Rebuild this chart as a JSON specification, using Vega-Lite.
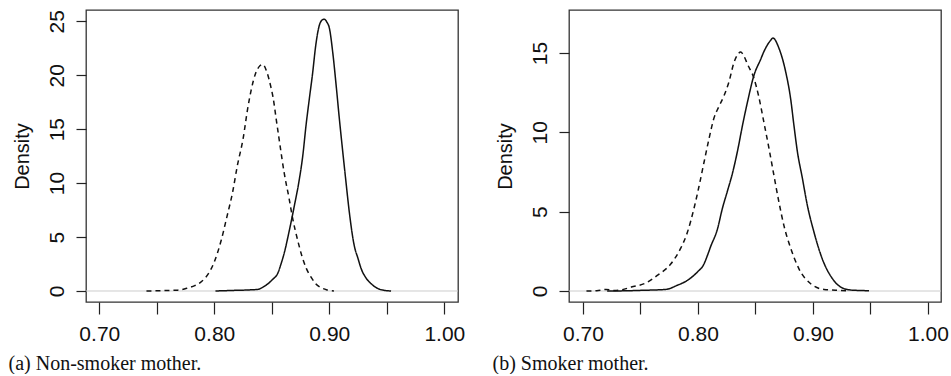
{
  "$schema": "https://vega.github.io/schema/vega-lite/v6.json",
  "background": "white",
  "padding": {"left": 7, "top": 8, "right": 0, "bottom": 0},
  "spacing": 111,
  "bounds": "flush",
  "config": {
    "view": {"stroke": "#333", "strokeWidth": 1.3},
    "axis": {
      "domain": false, "grid": false,
      "tickColor": "#222", "tickWidth": 1.2,
      "labelColor": "#111", "labelFont": "Liberation Sans", "labelFontSize": 21,
      "labelFlush": false, "labelOverlap": false,
      "titleColor": "#111", "titleFontWeight": "normal"
    }
  },
  "datasets": {
    "nonsmoker": [
      {"x": 0.741, "d": 0, "curve": "dashed"},
      {"x": 0.755, "d": 0.03, "curve": "dashed"},
      {"x": 0.768, "d": 0.08, "curve": "dashed"},
      {"x": 0.776, "d": 0.25, "curve": "dashed"},
      {"x": 0.783, "d": 0.5, "curve": "dashed"},
      {"x": 0.788, "d": 0.8, "curve": "dashed"},
      {"x": 0.792, "d": 1.2, "curve": "dashed"},
      {"x": 0.796, "d": 1.8, "curve": "dashed"},
      {"x": 0.800, "d": 2.7, "curve": "dashed"},
      {"x": 0.806, "d": 4.7, "curve": "dashed"},
      {"x": 0.811, "d": 6.9, "curve": "dashed"},
      {"x": 0.816, "d": 9.2, "curve": "dashed"},
      {"x": 0.820, "d": 11.6, "curve": "dashed"},
      {"x": 0.825, "d": 14.1, "curve": "dashed"},
      {"x": 0.829, "d": 16.9, "curve": "dashed"},
      {"x": 0.832, "d": 18.6, "curve": "dashed"},
      {"x": 0.836, "d": 20.2, "curve": "dashed"},
      {"x": 0.839, "d": 20.8, "curve": "dashed"},
      {"x": 0.842, "d": 21.0, "curve": "dashed"},
      {"x": 0.846, "d": 20.2, "curve": "dashed"},
      {"x": 0.849, "d": 19.0, "curve": "dashed"},
      {"x": 0.851, "d": 18.0, "curve": "dashed"},
      {"x": 0.854, "d": 15.8, "curve": "dashed"},
      {"x": 0.857, "d": 13.6, "curve": "dashed"},
      {"x": 0.861, "d": 10.8, "curve": "dashed"},
      {"x": 0.865, "d": 8.6, "curve": "dashed"},
      {"x": 0.868, "d": 6.8, "curve": "dashed"},
      {"x": 0.8725, "d": 4.7, "curve": "dashed"},
      {"x": 0.876, "d": 3.3, "curve": "dashed"},
      {"x": 0.880, "d": 2.1, "curve": "dashed"},
      {"x": 0.884, "d": 1.3, "curve": "dashed"},
      {"x": 0.888, "d": 0.7, "curve": "dashed"},
      {"x": 0.893, "d": 0.3, "curve": "dashed"},
      {"x": 0.898, "d": 0.1, "curve": "dashed"},
      {"x": 0.904, "d": 0, "curve": "dashed"},
      {"x": 0.801, "d": 0, "curve": "solid"},
      {"x": 0.815, "d": 0.05, "curve": "solid"},
      {"x": 0.830, "d": 0.1, "curve": "solid"},
      {"x": 0.838, "d": 0.15, "curve": "solid"},
      {"x": 0.843, "d": 0.4, "curve": "solid"},
      {"x": 0.847, "d": 0.7, "curve": "solid"},
      {"x": 0.851, "d": 1.1, "curve": "solid"},
      {"x": 0.855, "d": 1.6, "curve": "solid"},
      {"x": 0.858, "d": 2.5, "curve": "solid"},
      {"x": 0.861, "d": 3.6, "curve": "solid"},
      {"x": 0.865, "d": 5.5, "curve": "solid"},
      {"x": 0.8696, "d": 7.9, "curve": "solid"},
      {"x": 0.874, "d": 10.4, "curve": "solid"},
      {"x": 0.877, "d": 12.6, "curve": "solid"},
      {"x": 0.8797, "d": 15.3, "curve": "solid"},
      {"x": 0.8826, "d": 17.8, "curve": "solid"},
      {"x": 0.8856, "d": 20.3, "curve": "solid"},
      {"x": 0.888, "d": 22.6, "curve": "solid"},
      {"x": 0.891, "d": 24.5, "curve": "solid"},
      {"x": 0.8935, "d": 25.1, "curve": "solid"},
      {"x": 0.8957, "d": 25.2, "curve": "solid"},
      {"x": 0.898, "d": 24.9, "curve": "solid"},
      {"x": 0.900, "d": 24.4, "curve": "solid"},
      {"x": 0.903, "d": 22.1, "curve": "solid"},
      {"x": 0.906, "d": 19.0, "curve": "solid"},
      {"x": 0.9087, "d": 16.0, "curve": "solid"},
      {"x": 0.9117, "d": 12.9, "curve": "solid"},
      {"x": 0.9145, "d": 10.1, "curve": "solid"},
      {"x": 0.9174, "d": 7.3, "curve": "solid"},
      {"x": 0.9217, "d": 4.2, "curve": "solid"},
      {"x": 0.925, "d": 3.0, "curve": "solid"},
      {"x": 0.9276, "d": 2.1, "curve": "solid"},
      {"x": 0.932, "d": 1.2, "curve": "solid"},
      {"x": 0.9363, "d": 0.68, "curve": "solid"},
      {"x": 0.941, "d": 0.3, "curve": "solid"},
      {"x": 0.945, "d": 0.12, "curve": "solid"},
      {"x": 0.9537, "d": 0, "curve": "solid"}
    ],
    "smoker": [
      {"x": 0.703, "d": 0, "curve": "dashed"},
      {"x": 0.712, "d": 0.02, "curve": "dashed"},
      {"x": 0.720, "d": 0.1, "curve": "dashed"},
      {"x": 0.727, "d": 0.03, "curve": "dashed"},
      {"x": 0.734, "d": 0.08, "curve": "dashed"},
      {"x": 0.742, "d": 0.25, "curve": "dashed"},
      {"x": 0.7545, "d": 0.5, "curve": "dashed"},
      {"x": 0.7647, "d": 0.99, "curve": "dashed"},
      {"x": 0.7763, "d": 1.7, "curve": "dashed"},
      {"x": 0.785, "d": 2.7, "curve": "dashed"},
      {"x": 0.7908, "d": 3.7, "curve": "dashed"},
      {"x": 0.7965, "d": 5.2, "curve": "dashed"},
      {"x": 0.8009, "d": 6.6, "curve": "dashed"},
      {"x": 0.8052, "d": 8.1, "curve": "dashed"},
      {"x": 0.8096, "d": 9.6, "curve": "dashed"},
      {"x": 0.8139, "d": 10.9, "curve": "dashed"},
      {"x": 0.818, "d": 11.6, "curve": "dashed"},
      {"x": 0.8226, "d": 12.3, "curve": "dashed"},
      {"x": 0.827, "d": 13.2, "curve": "dashed"},
      {"x": 0.8313, "d": 14.4, "curve": "dashed"},
      {"x": 0.8345, "d": 14.9, "curve": "dashed"},
      {"x": 0.8371, "d": 15.06, "curve": "dashed"},
      {"x": 0.840, "d": 14.8, "curve": "dashed"},
      {"x": 0.843, "d": 14.3, "curve": "dashed"},
      {"x": 0.8487, "d": 13.4, "curve": "dashed"},
      {"x": 0.853, "d": 12.2, "curve": "dashed"},
      {"x": 0.8574, "d": 10.6, "curve": "dashed"},
      {"x": 0.8617, "d": 9.0, "curve": "dashed"},
      {"x": 0.866, "d": 7.3, "curve": "dashed"},
      {"x": 0.8704, "d": 5.6, "curve": "dashed"},
      {"x": 0.8748, "d": 4.1, "curve": "dashed"},
      {"x": 0.8806, "d": 2.7, "curve": "dashed"},
      {"x": 0.8878, "d": 1.4, "curve": "dashed"},
      {"x": 0.898, "d": 0.46, "curve": "dashed"},
      {"x": 0.9096, "d": 0.1, "curve": "dashed"},
      {"x": 0.924, "d": 0.03, "curve": "dashed"},
      {"x": 0.931, "d": 0, "curve": "dashed"},
      {"x": 0.721, "d": 0, "curve": "solid"},
      {"x": 0.735, "d": 0.01, "curve": "solid"},
      {"x": 0.750, "d": 0.04, "curve": "solid"},
      {"x": 0.7719, "d": 0.1, "curve": "solid"},
      {"x": 0.782, "d": 0.36, "curve": "solid"},
      {"x": 0.7908, "d": 0.67, "curve": "solid"},
      {"x": 0.7995, "d": 1.2, "curve": "solid"},
      {"x": 0.8052, "d": 1.7, "curve": "solid"},
      {"x": 0.808, "d": 2.2, "curve": "solid"},
      {"x": 0.811, "d": 2.8, "curve": "solid"},
      {"x": 0.8169, "d": 3.9, "curve": "solid"},
      {"x": 0.8212, "d": 5.2, "curve": "solid"},
      {"x": 0.8256, "d": 6.3, "curve": "solid"},
      {"x": 0.8299, "d": 7.4, "curve": "solid"},
      {"x": 0.8343, "d": 8.8, "curve": "solid"},
      {"x": 0.8386, "d": 10.4, "curve": "solid"},
      {"x": 0.843, "d": 11.9, "curve": "solid"},
      {"x": 0.8487, "d": 13.6, "curve": "solid"},
      {"x": 0.8545, "d": 14.6, "curve": "solid"},
      {"x": 0.8574, "d": 15.1, "curve": "solid"},
      {"x": 0.8632, "d": 15.8, "curve": "solid"},
      {"x": 0.8652, "d": 15.94, "curve": "solid"},
      {"x": 0.8704, "d": 15.3, "curve": "solid"},
      {"x": 0.8763, "d": 13.8, "curve": "solid"},
      {"x": 0.8806, "d": 12.1, "curve": "solid"},
      {"x": 0.8835, "d": 10.4, "curve": "solid"},
      {"x": 0.8864, "d": 8.8, "curve": "solid"},
      {"x": 0.8908, "d": 7.1, "curve": "solid"},
      {"x": 0.8951, "d": 5.4, "curve": "solid"},
      {"x": 0.9009, "d": 3.7, "curve": "solid"},
      {"x": 0.9082, "d": 2.0, "curve": "solid"},
      {"x": 0.9169, "d": 0.78, "curve": "solid"},
      {"x": 0.927, "d": 0.15, "curve": "solid"},
      {"x": 0.935, "d": 0.05, "curve": "solid"},
      {"x": 0.9487, "d": 0.02, "curve": "solid"}
    ],
    "zero": [{"d": 0}]
  },
  "hconcat": [
    {
      "width": 372,
      "height": 292,
      "encoding": {
        "y": {
          "field": "d", "type": "quantitative",
          "scale": {"domain": [-1.02, 26.05], "nice": false, "zero": false},
          "axis": {
            "values": [0, 5, 10, 15, 20, 25],
            "tickSize": 10,
            "labelAngle": 270, "labelAlign": "center", "labelBaseline": "alphabetic", "labelPadding": 13,
            "title": "Density", "titleFont": "Liberation Sans", "titleFontSize": 20,
            "titleAngle": 270, "titleX": -58, "titleY": 146, "titleAlign": "center", "titleBaseline": "alphabetic"
          }
        }
      },
      "layer": [
        {
          "data": {"name": "zero"},
          "mark": {"type": "rule", "color": "#cccccc", "strokeWidth": 1}
        },
        {
          "data": {"name": "nonsmoker"},
          "mark": {"type": "line", "color": "#111111", "strokeWidth": 1.5, "interpolate": "monotone"},
          "encoding": {
            "x": {
              "field": "x", "type": "quantitative",
              "scale": {"domain": [0.68843, 1.0119], "nice": false, "zero": false},
              "axis": {
                "values": [0.7, 0.75, 0.8, 0.85, 0.9, 0.95, 1.0],
                "labelExpr": "round(datum.value * 100) % 10 == 0 ? format(datum.value, '.2f') : ''",
                "tickSize": 12, "labelBaseline": "alphabetic", "labelPadding": 26,
                "title": "(a) Non-smoker mother.", "titleFont": "Liberation Serif", "titleFontSize": 20,
                "titleX": -78, "titleY": 67, "titleAlign": "left", "titleBaseline": "alphabetic"
              }
            },
            "strokeDash": {
              "field": "curve", "type": "nominal",
              "scale": {"domain": ["solid", "dashed"], "range": [[1, 0], [5, 4]]},
              "legend": null
            }
          }
        }
      ]
    },
    {
      "width": 372,
      "height": 292,
      "encoding": {
        "y": {
          "field": "d", "type": "quantitative",
          "scale": {"domain": [-0.693, 17.71], "nice": false, "zero": false},
          "axis": {
            "values": [0, 5, 10, 15],
            "tickSize": 10,
            "labelAngle": 270, "labelAlign": "center", "labelBaseline": "alphabetic", "labelPadding": 13,
            "title": "Density", "titleFont": "Liberation Sans", "titleFontSize": 20,
            "titleAngle": 270, "titleX": -58, "titleY": 146, "titleAlign": "center", "titleBaseline": "alphabetic"
          }
        }
      },
      "layer": [
        {
          "data": {"name": "zero"},
          "mark": {"type": "rule", "color": "#cccccc", "strokeWidth": 1}
        },
        {
          "data": {"name": "smoker"},
          "mark": {"type": "line", "color": "#111111", "strokeWidth": 1.5, "interpolate": "monotone"},
          "encoding": {
            "x": {
              "field": "x", "type": "quantitative",
              "scale": {"domain": [0.68783, 1.01132], "nice": false, "zero": false},
              "axis": {
                "values": [0.7, 0.75, 0.8, 0.85, 0.9, 0.95, 1.0],
                "labelExpr": "round(datum.value * 100) % 10 == 0 ? format(datum.value, '.2f') : ''",
                "tickSize": 12, "labelBaseline": "alphabetic", "labelPadding": 26,
                "title": "(b) Smoker mother.", "titleFont": "Liberation Serif", "titleFontSize": 20,
                "titleX": -77, "titleY": 67, "titleAlign": "left", "titleBaseline": "alphabetic"
              }
            },
            "strokeDash": {
              "field": "curve", "type": "nominal",
              "scale": {"domain": ["solid", "dashed"], "range": [[1, 0], [5, 4]]},
              "legend": null
            }
          }
        }
      ]
    }
  ]
}
